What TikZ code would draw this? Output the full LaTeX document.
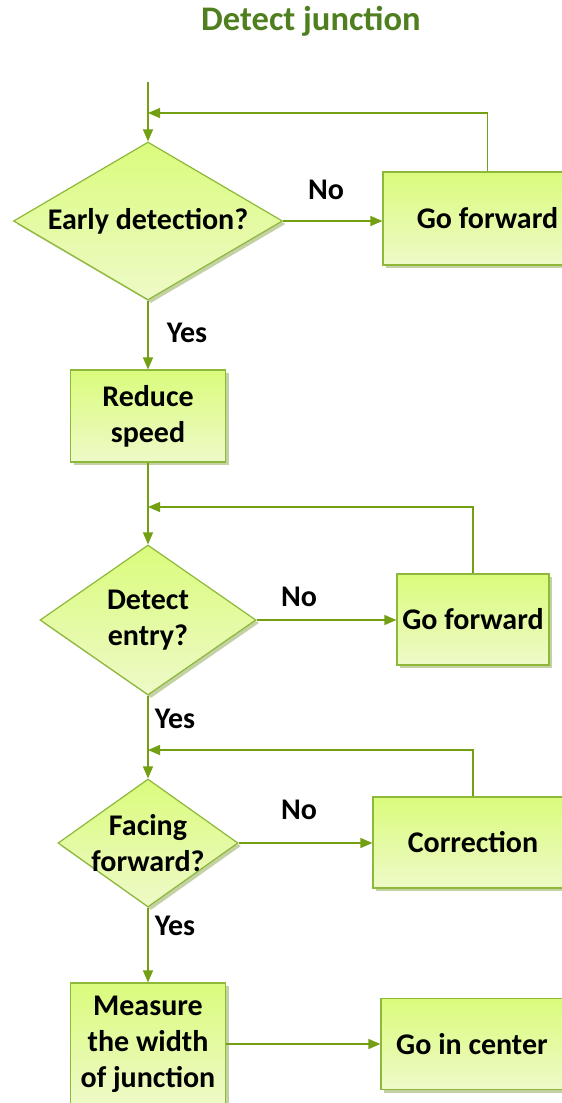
\documentclass[tikz,border=0pt]{standalone}
\usepackage{fontspec}
\setmainfont{Carlito}
\usetikzlibrary{shapes.geometric,arrows.meta,shadows}
\definecolor{fillTop}{HTML}{DAFB7C}
\definecolor{fillBot}{HTML}{EEFAC8}
\definecolor{borderc}{HTML}{8DB83A}
\definecolor{linec}{HTML}{72A012}
\definecolor{shadowc}{HTML}{B4C68E}
\definecolor{titlec}{HTML}{4F7F1F}
\tikzset{
  txt/.style={font=\fontsize{30}{36}\selectfont\bfseries, text=black, align=center, inner sep=0pt},
  shapebase/.style={draw=borderc, line width=1.2pt, top color=fillTop, bottom color=fillBot,
    drop shadow={shadow xshift=3pt, shadow yshift=-3pt, fill=shadowc, opacity=0.8}},
  procbox/.style={shapebase, rectangle, inner sep=2pt, txt},
  decision/.style={shapebase, diamond, inner sep=0pt},
  conn/.style={draw=linec, line width=1.3pt, -{Triangle[length=12pt,width=10pt]}},
  lbl/.style={txt}
}
\begin{document}
\begin{tikzpicture}[x=1pt,y=-1pt]
\clip (0,0) rectangle (562,1103);
\fill[white] (0,0) rectangle (562,1103);
\node[txt, font=\fontsize{34.5}{40}\selectfont\bfseries, text=titlec] (title) at (311,21) {Detect junction};

% nodes
\coordinate (start) at (148,82);
\node[decision, minimum width=269pt, minimum height=158pt, label={[txt]center:Early detection?}] (d1) at (148,221) {};
\node[procbox, minimum width=209pt, minimum height=93pt] (g1) at (487.5,218.5) {Go forward};
\node[procbox, minimum width=155pt, minimum height=92pt] (r) at (148,416) {Reduce\\speed};
\node[decision, minimum width=216pt, minimum height=150pt, label={[txt]center:Detect\\entry?}] (d2) at (148,620) {};
\node[procbox, minimum width=152pt, minimum height=91pt] (g2) at (473,619.5) {Go forward};
\node[decision, minimum width=180pt, minimum height=128pt, label={[txt]center:Facing\\forward?}] (d3) at (148,843) {};
\node[procbox, minimum width=200pt, minimum height=91pt] (c) at (473,842.5) {Correction};
\node[procbox, minimum width=155pt, minimum height=122pt] (m) at (148,1044) {Measure\\the width\\of junction};
\node[procbox, minimum width=182pt, minimum height=91pt] (gc) at (472,1044) {Go in center};

\coordinate (fb1) at (148,113);
\coordinate (fb2) at (148,507);
\coordinate (fb3) at (148,750);

% connectors
\draw[conn] (start) -- (d1.north);
\draw[conn] (g1.north) |- (fb1);
\draw[conn] (d1.east) -- (g1.west |- d1.east);
\draw[conn] (d1.south) -- (r.north);
\draw[conn] (r.south) -- (d2.north);
\draw[conn] (g2.north) |- (fb2);
\draw[conn] (d2.east) -- (g2.west |- d2.east);
\draw[conn] (d2.south) -- (d3.north);
\draw[conn] (c.north) |- (fb3);
\draw[conn] (d3.east) -- (c.west |- d3.east);
\draw[conn] (d3.south) -- (m.north);
\draw[conn] (m.east) -- (gc.west);

% labels
\node[lbl] (no1) at (326,190) {No};
\node[lbl] (yes1) at (187,333) {Yes};
\node[lbl] (no2) at (299,597) {No};
\node[lbl] (yes2) at (175,719) {Yes};
\node[lbl] (no3) at (299,810) {No};
\node[lbl] (yes3) at (175,926) {Yes};
\end{tikzpicture}
\end{document}
